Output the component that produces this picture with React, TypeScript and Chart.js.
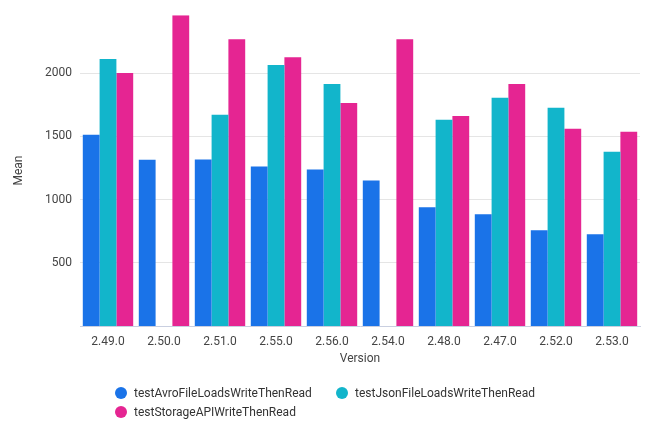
import React, { useEffect, useRef } from "react";
import { Chart, registerables } from "chart.js";

Chart.register(...registerables);

const categories = ["2.49.0", "2.50.0", "2.51.0", "2.55.0", "2.56.0", "2.54.0", "2.48.0", "2.47.0", "2.52.0", "2.53.0"];
const seriesNames = ["testAvroFileLoadsWriteThenRead", "testJsonFileLoadsWriteThenRead", "testStorageAPIWriteThenRead"];
const avroValues = [1514, 1315, 1317, 1262, 1239, 1152, 939, 884, 758, 726];
const jsonValues: (number | null)[] = [2113, null, 1672, 2065, 1916, null, 1632, 1806, 1727, 1380];
const storageValues = [2002, 2459, 2270, 2128, 1766, 2270, 1663, 1916, 1561, 1538];
const yTickValues = [500, 1000, 1500, 2000];
const colors = ["#1a73e8", "#12b5cb", "#e52592"];

const FONT = "Roboto, 'Noto Sans', sans-serif";

export default function App() {
  const canvasRef = useRef<HTMLCanvasElement | null>(null);

  useEffect(() => {
    document.body.style.margin = "0";
    const ctx = canvasRef.current;
    if (!ctx) return;
    const allValues = [avroValues, jsonValues, storageValues];
    const chart = new Chart(ctx, {
      type: "bar",
      data: {
        labels: categories,
        datasets: seriesNames.map((name, i) => ({
          label: name,
          data: allValues[i],
          backgroundColor: colors[i],
          borderWidth: 0,
          barPercentage: 1,
          categoryPercentage: 0.9,
        })),
      },
      options: {
        animation: false,
        responsive: false,
        maintainAspectRatio: false,
        layout: { padding: { top: 14, right: 10, bottom: 76, left: 0 } },
        plugins: {
          legend: { display: false },
          tooltip: { enabled: false },
        },
        scales: {
          x: {
            grid: { display: false, drawTicks: false },
            border: { display: true, color: "#c9cfe0", width: 1 },
            ticks: { color: "#444", font: { family: FONT, size: 12 }, padding: 9, maxRotation: 0 },
            title: { display: true, text: "Version", color: "#444", font: { family: FONT, size: 12 }, padding: { top: 0, bottom: 0 } },
            afterFit: (scale: any) => {
              scale.height = 40;
            },
          },
          y: {
            min: 0,
            max: 2460,
            grid: { color: "#e5e5e5", drawTicks: false },
            border: { display: false },
            ticks: {
              color: "#444",
              font: { family: FONT, size: 12 },
              padding: 8,
              callback: (v: any) => String(v),
            },
            afterBuildTicks: (scale: any) => {
              scale.ticks = yTickValues.map((v) => ({ value: v }));
            },
            title: { display: true, text: "Mean", color: "#444", font: { family: FONT, size: 12 }, padding: { top: 12, bottom: 0 } },
            afterFit: (scale: any) => {
              scale.width = 80;
            },
          },
        },
      },
    });
    return () => chart.destroy();
  }, []);

  const legendPos = [
    { x: 115, y: 393 },
    { x: 336, y: 393 },
    { x: 115, y: 412 },
  ];

  return (
    <div style={{ position: "relative", width: 650, height: 442, fontFamily: FONT }}>
      <canvas ref={canvasRef} width={650} height={442} style={{ display: "block", width: 650, height: 442 }} />
      {seriesNames.map((name, i) => (
        <div
          key={name}
          style={{
            position: "absolute",
            left: legendPos[i].x,
            top: legendPos[i].y - 8,
            height: 16,
            display: "flex",
            alignItems: "center",
            fontSize: 12,
            color: "#333",
            whiteSpace: "nowrap",
          }}
        >
          <span
            style={{
              display: "inline-block",
              width: 12,
              height: 12,
              borderRadius: 6,
              background: colors[i],
              marginRight: 7,
            }}
          />
          <span>{name}</span>
        </div>
      ))}
    </div>
  );
}
